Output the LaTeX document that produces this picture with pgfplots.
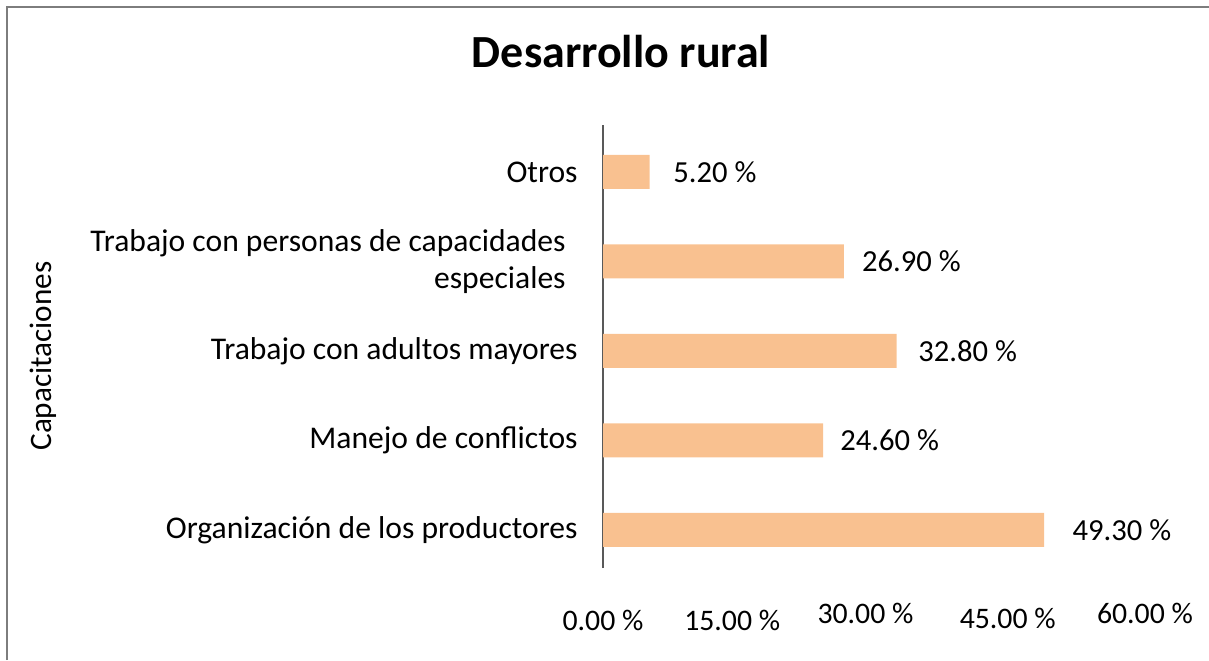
\documentclass[border=0pt]{standalone}
\usepackage{fontspec}
\setmainfont{Carlito}
\usepackage{pgfplots}
\usepackage{pgfplotstable}
\pgfplotsset{compat=1.18}
\definecolor{barc}{RGB}{249,193,144}
\definecolor{axc}{RGB}{89,89,89}
\definecolor{framec}{RGB}{125,125,125}
\pgfplotstableread{
pos val shift
0 49.3 14
1 24.6 8.4
2 32.8 10.7
3 26.9 9
4 5.2 11.75
}\datatab
\begin{document}
\begin{tikzpicture}
\useasboundingbox (0,0) rectangle (604.5pt,330pt);
\draw[framec, line width=1pt] (3.5pt,0) -- (3.5pt,326.5pt) -- (604.5pt,326.5pt);
\node[font=\fontsize{23}{27}\selectfont\bfseries, anchor=base] at (310.5pt,296pt) {Desarrollo rural};
\node[font=\fontsize{15.6}{19}\selectfont, rotate=90, anchor=base] at (25.5pt,152pt) {Capacitaciones};
\begin{axis}[
  at={(301.5pt,46pt)}, anchor=south west, scale only axis,
  width=268.5pt, height=221.5pt,
  xmin=0, xmax=60, ymin=-0.425, ymax=4.525,
  axis x line*=bottom, axis y line*=left,
  x axis line style={draw=none},
  y axis line style={draw=axc, line width=1pt, -},
  major tick length=0pt,
  /pgf/number format/assume math mode=true,
  xtick={0,15,30,45,60},
  xticklabels={{0.00 \%},{15.00 \%\kern5pt},{\raisebox{3.5pt}{30.00 \%}\kern6pt},{\kern2pt\raisebox{1pt}{45.00 \%}},{\kern5pt\raisebox{3.5pt}{60.00 \%}}},
  xticklabel style={anchor=base, yshift=-31pt, inner sep=0pt, font=\fontsize{14.9}{17}\selectfont},
  ytick={0,1,2,3,4},
  yticklabels={{Organización de los productores},{Manejo de conflictos},{Trabajo con adultos mayores},{Trabajo con personas de capacidades\kern6pt\\especiales\kern6pt},{Otros}},
  yticklabel style={anchor=east, align=right, inner sep=0pt, xshift=-12.5pt, font=\fontsize{15.8}{18.5}\selectfont},
  xbar, bar width=17pt,
  point meta=x,
  visualization depends on={\thisrow{shift}\as\myshift},
  nodes near coords={\pgfmathprintnumber[fixed,fixed zerofill,precision=2]{\pgfplotspointmeta}~\%},
  nodes near coords style={anchor=west, inner sep=0pt, xshift=\myshift pt, font=\fontsize{15.3}{18}\selectfont, text=black},
]
\addplot[fill=barc, draw=none] table[x=val, y=pos] {\datatab};
\end{axis}
\end{tikzpicture}
\end{document}
